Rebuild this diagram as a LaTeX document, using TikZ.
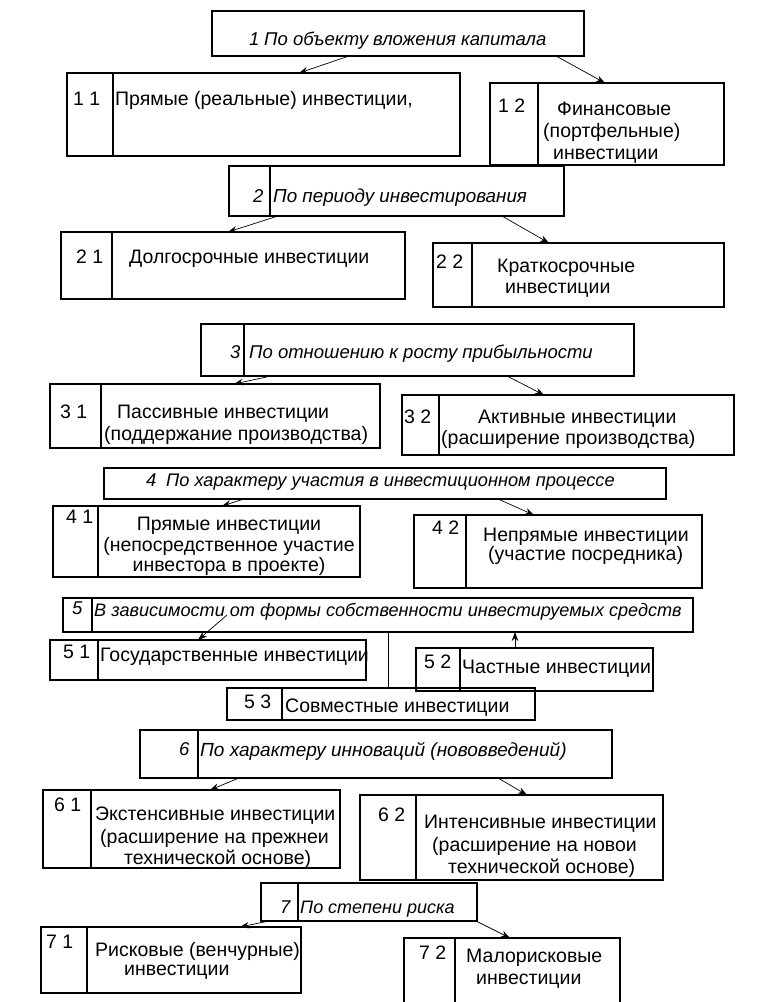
\documentclass[tikz,border=0pt]{standalone}
\usepackage{fontspec}
\setmainfont{Liberation Sans}
\usetikzlibrary{arrows.meta,calc}
\newcommand\divbox[6]{%
  \node[box, minimum width={(#4-#2)*1pt}, minimum height={(#5-#3)*1pt}, anchor=north west] (#1) at (#2,#3) {};
  \draw[boxline] let \p1=(#1.north), \p2=(#1.south) in (#6pt,\y1) -- (#6pt,\y2);}
\newcommand\plainbox[5]{%
  \node[box, minimum width={(#4-#2)*1pt}, minimum height={(#5-#3)*1pt}, anchor=north west] (#1) at (#2,#3) {};}
\newcommand\conn[4]{\draw[arr] let \p1=(#1.south), \p2=(#3.north) in (#2pt,\y1) -- (#4pt,\y2);}
\newcommand\tx[4]{\node[txt] (#1) at (#2,#3) {#4};}
\newcommand\hd[4]{\node[head] (#1) at (#2,#3) {#4};}
\begin{document}
\begin{tikzpicture}[x=1pt,y=-1pt,
  box/.style={draw, line width=1.1pt, inner sep=0pt, outer sep=0pt},
  boxline/.style={line width=1.1pt},
  txt/.style={anchor=base west, inner sep=0pt, font=\fontsize{19.5}{22}\selectfont},
  head/.style={anchor=base west, inner sep=0pt, font=\fontsize{18.5}{22}\selectfont\itshape},
  arr/.style={-{Stealth[length=9pt,width=6.5pt]}, line width=0.7pt}]
\useasboundingbox[fill=white] (0,0) rectangle (763,1002);

% ---- group 1
\plainbox{b1}{212}{11}{584}{56}
\hd{n1}{249}{45}{1}
\hd{h1}{264}{45}{По объекту вложения капитала}
\divbox{b11}{67}{73}{460}{156}{113}
\tx{n11}{73}{105}{1 1}
\tx{t11}{115}{105}{Прямые (реальные) инвестиции,}
\divbox{b12}{490}{83}{724}{165}{538}
\tx{n12}{498}{112}{1 2}
\tx{t12a}{557}{115}{Финансовые}
\tx{t12b}{543}{137}{(портфельные)}
\tx{t12c}{553}{159}{инвестиции}
\conn{b1}{349}{b11}{299}
\conn{b1}{556}{b12}{605}

% ---- group 2
\divbox{b2}{229}{166}{564}{216}{270}
\hd{n2}{253}{202}{2}
\node[head, font=\fontsize{18.8}{22}\selectfont\itshape] (h2) at (273,202) {По периоду инвестирования};
\divbox{b21}{61}{232}{405}{299}{112}
\tx{n21}{76}{263}{2 1}
\tx{t21}{129}{263}{Долгосрочные инвестиции}
\divbox{b22}{433}{243}{724}{307}{472}
\tx{n22}{436}{268}{2 2}
\tx{t22a}{497}{272}{Краткосрочные}
\tx{t22b}{505}{293}{инвестиции}
\conn{b2}{278}{b21}{228}
\conn{b2}{502}{b22}{549}

% ---- group 3
\divbox{b3}{201}{324}{634}{376}{244}
\hd{n3}{230}{358}{3}
\hd{h3}{249}{358}{По отношению к росту прибыльности}
\divbox{b31}{50}{384}{380}{448}{101}
\tx{n31}{60}{418}{3 1}
\tx{t31a}{117}{418}{Пассивные инвестиции}
\tx{t31b}{104}{440}{(поддержание производства)}
\divbox{b32}{402}{395}{734}{455}{439}
\tx{n32}{404}{423}{3 2}
\tx{t32a}{478}{423}{Активные инвестиции}
\tx{t32b}{441}{444}{(расширение производства)}
\conn{b3}{271}{b31}{234}
\conn{b3}{507}{b32}{544}

% ---- group 4
\plainbox{b4}{104}{468}{666}{499}
\hd{n4}{146}{486}{4}
\node[head, font=\fontsize{18.2}{22}\selectfont\itshape] (h4) at (166,486) {По характеру участия в инвестиционном процессе};
\divbox{b41}{53}{506}{360}{577}{98}
\tx{n41}{66}{523}{4 1}
\node[txt, anchor=base] (t41a) at (229,530) {Прямые инвестиции};
\node[txt, anchor=base] (t41b) at (229,551) {(непосредственное участие};
\node[txt, anchor=base] (t41c) at (229,571) {инвестора в проекте)};
\divbox{b42}{414}{515}{702}{588}{466}
\tx{n42}{432}{534}{4 2}
\tx{t42a}{483}{541}{Непрямые инвестиции}
\tx{t42b}{488}{560}{(участие посредника)}
\conn{b4}{244}{b41}{222}
\conn{b4}{498}{b42}{534}

% ---- group 5
\divbox{b5}{63}{598}{693}{632}{92}
\hd{n5}{72}{614}{5}
\node[head, font=\fontsize{18.1}{22}\selectfont\itshape] (h5) at (94,616) {В зависимости от формы собственности инвестируемых средств};
\divbox{b51}{50}{640}{366}{680}{98}
\tx{n51}{63}{658}{5 1}
\tx{t51}{100}{661}{Государственные инвестиции}
\divbox{b52}{416}{648}{653}{691}{460}
\tx{n52}{424}{668}{5 2}
\tx{t52}{462}{673}{Частные инвестиции}
\divbox{b53}{227}{688}{535}{720}{282}
\tx{n53}{244}{708}{5 3}
\tx{t53}{285}{712}{Совместные инвестиции}
\draw[arr] let \p1=(b5.center), \p2=(b51.north) in (227pt,\y1) -- (198pt,\y2);
\draw[line width=0.9pt] let \p1=(b5.south), \p2=(b53.north) in (388pt,\y1) -- (388pt,\y2);
\draw[arr] let \p1=(b52.north), \p2=(b5.south) in (515pt,\y1) -- (515pt,\y2);

% ---- group 6
\divbox{b6}{140}{730}{612}{778}{198}
\hd{n6}{179}{755}{6}
\node[head, font=\fontsize{19}{22}\selectfont\itshape] (h6) at (200,756) {По характеру инноваций (нововведений)};
\divbox{b61}{43}{790}{340}{868}{91}
\tx{n61}{54}{811}{6 1}
\tx{t61a}{95}{820}{Экстенсивные инвестиции}
\tx{t61b}{100}{843}{(расширение на прежнеи}
\tx{t61c}{124}{864}{технической основе)}
\divbox{b62}{360}{795}{663}{880}{416}
\tx{n62}{378}{821}{6 2}
\tx{t62a}{424}{828}{Интенсивные инвестиции}
\tx{t62b}{432}{851}{(расширение на новои}
\tx{t62c}{448}{873}{технической основе)}
\conn{b6}{239}{b61}{210}
\conn{b6}{498}{b62}{527}

% ---- group 7
\divbox{b7}{261}{883}{477}{921}{298}
\hd{n7}{280}{913}{7}
\node[head, font=\fontsize{18}{22}\selectfont\itshape] (h7) at (300,913) {По степени риска};
\divbox{b71}{41}{927}{301}{993}{87}
\tx{n71}{46}{948}{7 1}
\tx{t71a}{95}{956}{Рисковые (венчурные)}
\tx{t71b}{124}{975}{инвестиции}
\divbox{b72}{404}{938}{620}{1012}{455}
\tx{n72}{419}{959}{7 2}
\tx{t72a}{466}{962}{Малорисковые}
\tx{t72b}{476}{984}{инвестиции}
\conn{b7}{269}{b71}{240}
\conn{b7}{476}{b72}{510}
\end{tikzpicture}
\end{document}
